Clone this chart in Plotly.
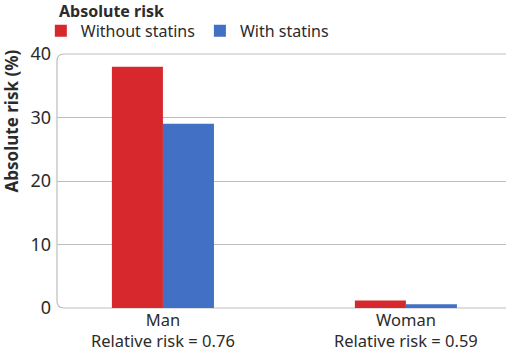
import plotly.graph_objects as go

categories = ["Man<br>Relative risk = 0.76", "Woman<br>Relative risk = 0.59"]
without_statins = [38.0, 1.2]
with_statins = [29.0, 0.6]
y_ticks = [0, 10, 20, 30, 40]

RED = "#d6282d"
BLUE = "#4170c4"
FONT = "Noto Sans"
TXT = "#2b2b2b"

fig = go.Figure()
fig.add_trace(go.Bar(name="Without statins", x=categories, y=without_statins,
                     marker=dict(color=RED, line=dict(width=0))))
fig.add_trace(go.Bar(name="With statins", x=categories, y=with_statins,
                     marker=dict(color=BLUE, line=dict(width=0))))

W, H = 506, 352
ml, mr, mt, mb = 57, 0, 54, 44
pw, ph = W - ml - mr, H - mt - mb
rx, ry = 7 / pw, 7 / ph
frame = (f"M 1.05,0 L {rx},0 Q 0,0 0,{ry} L 0,{1-ry} Q 0,1 {rx},1 L 1.05,1")

fig.update_layout(
    width=W, height=H,
    margin=dict(l=ml, r=mr, t=mt, b=mb, autoexpand=False),
    paper_bgcolor="white", plot_bgcolor="white",
    font=dict(family=FONT, color=TXT, size=16),
    barmode="group", bargap=0.58, bargroupgap=0,
    showlegend=True,
    legend=dict(orientation="h", x=-0.036, xanchor="left", y=1.024, yanchor="bottom",
                yref="paper", font=dict(size=16, color=TXT), itemwidth=30,
                traceorder="normal", bgcolor="rgba(0,0,0,0)", tracegroupgap=0),
    xaxis=dict(range=[-0.436, 1.412], showgrid=False, showline=False, zeroline=False,
               ticks="", tickfont=dict(size=16.5, color=TXT)),
    yaxis=dict(range=[0, 40], tickvals=y_ticks, showgrid=True, gridcolor="#bdbdbd",
               gridwidth=1, zeroline=False, showline=False, ticks="",
               tickfont=dict(size=18, color=TXT), ticklabelstandoff=5),
    shapes=[dict(type="path", xref="paper", yref="paper", path=frame,
                 line=dict(color="#bdbdbd", width=1.2), layer="below")],
    annotations=[
        dict(text="<b>Absolute risk</b>", xref="paper", yref="paper",
             x=0, y=1.0, xanchor="left", yanchor="bottom",
             yshift=30, showarrow=False, font=dict(size=16, color=TXT)),
        dict(text="<b>Absolute risk (%)</b>", xref="paper", yref="paper",
             x=0, y=1.0, xanchor="center", yanchor="top", xshift=-46, yshift=6,
             textangle=-90, showarrow=False, font=dict(size=17, color=TXT)),
    ],
)

fig.write_html("out.html")
